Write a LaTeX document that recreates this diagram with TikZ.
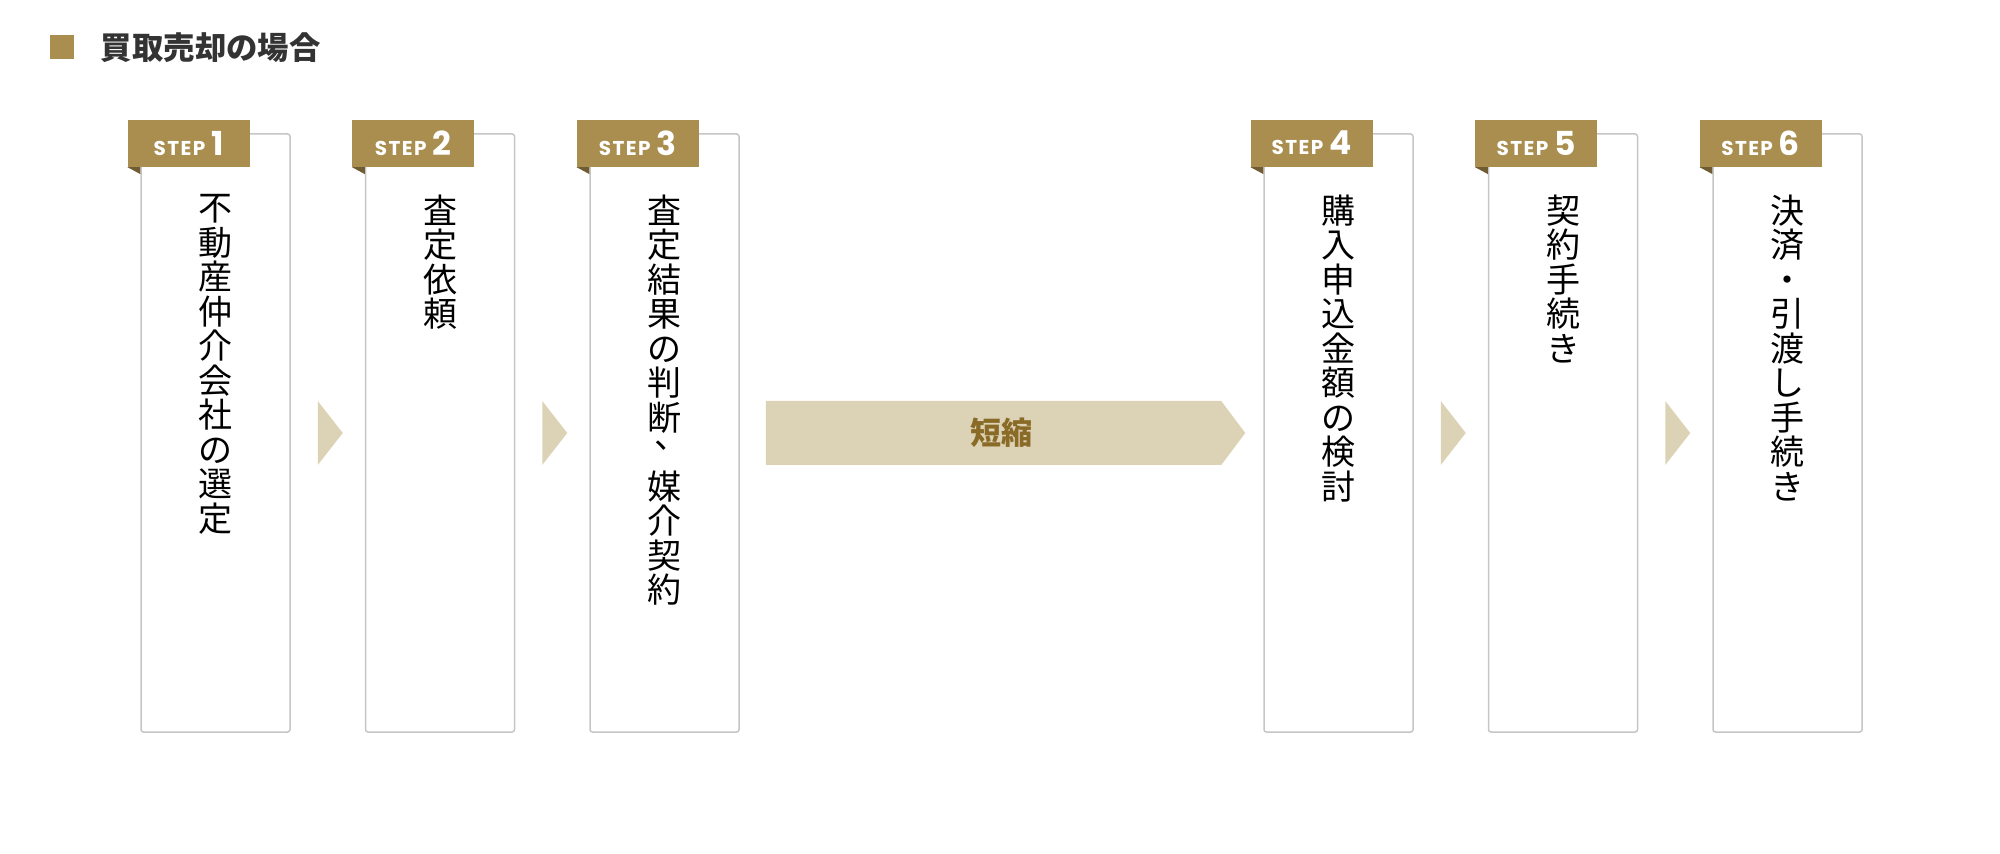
\documentclass[tikz,border=0pt]{standalone}
\usepackage{fontspec}
\newfontfamily\jp{Noto Sans CJK JP}
\newfontfamily\stepfont[LetterSpace=7]{Poppins}
\usepackage{tikz}
\usetikzlibrary{positioning, calc}

\definecolor{gold}{HTML}{A98E50}
\definecolor{golddark}{HTML}{6F5C33}
\definecolor{beige}{HTML}{DCD2B5}
\definecolor{brownish}{HTML}{8A6A27}
\definecolor{framegray}{HTML}{C6C6C6}
\definecolor{titlegray}{HTML}{333333}

\newcommand{\steplabel}[1]{{\fontsize{10pt}{10pt}\selectfont STEP}\hspace{3pt}{\fontsize{16.5pt}{16.5pt}\selectfont #1}}
\newcommand{\vcomma}{\makebox[1em][l]{\hspace{0.2em}\smash{\raisebox{0.48em}{、}}}}

\tikzset{
    stepbox/.style={draw=framegray, line width=0.75pt, rounded corners=1.2pt, fill=white,
        minimum width=74.5pt, minimum height=299pt, inner sep=0pt},
    steptag/.style={fill=gold, text=white, minimum width=61pt, minimum height=23.5pt,
        inner sep=0pt, anchor=north west, font=\stepfont\bfseries},
    steptext/.style={align=center, inner sep=0pt, font=\jp\fontsize{17pt}{17.25pt}\selectfont},
    chevron/.style={fill=beige},
}

\begin{document}
\begin{tikzpicture}[x=0.5pt, y=-0.5pt, node distance=37pt]
    \useasboundingbox (0,0) rectangle (2000,854);

    % Title
    \node (sq) [fill=gold, minimum size=12pt, inner sep=0pt] at (62,47.5) {};
    \node (title) [right=13pt of sq, inner sep=0pt, text=titlegray,
        font=\jp\bfseries\fontsize{15.7pt}{16pt}\selectfont] {買取売却の場合};

    % Boxes
    \node (s1) [stepbox] at (215.5,433) {};
    \node (s2) [stepbox, right=of s1] {};
    \node (s3) [stepbox, right=of s2] {};
    \node (s4) [stepbox, right=261.75pt of s3] {};
    \node (s5) [stepbox, right=of s4] {};
    \node (s6) [stepbox, right=of s5] {};

    % Tags
    \node (g1) [steptag] at ([shift={(-13,-14)}]s1.north west) {\steplabel{1}};
    \node (g2) [steptag] at ([shift={(-13,-14)}]s2.north west) {\steplabel{2}};
    \node (g3) [steptag] at ([shift={(-13,-14)}]s3.north west) {\steplabel{3}};
    \node (g4) [steptag] at ([shift={(-13,-14)}]s4.north west) {\steplabel{4}};
    \node (g5) [steptag] at ([shift={(-13,-14)}]s5.north west) {\steplabel{5}};
    \node (g6) [steptag] at ([shift={(-13,-14)}]s6.north west) {\steplabel{6}};
    \fill[golddark] (g1.south west) -- ([xshift=6.5pt]g1.south west) -- ++(0,-3.5pt) -- cycle;
    \fill[golddark] (g2.south west) -- ([xshift=6.5pt]g2.south west) -- ++(0,-3.5pt) -- cycle;
    \fill[golddark] (g3.south west) -- ([xshift=6.5pt]g3.south west) -- ++(0,-3.5pt) -- cycle;
    \fill[golddark] (g4.south west) -- ([xshift=6.5pt]g4.south west) -- ++(0,-3.5pt) -- cycle;
    \fill[golddark] (g5.south west) -- ([xshift=6.5pt]g5.south west) -- ++(0,-3.5pt) -- cycle;
    \fill[golddark] (g6.south west) -- ([xshift=6.5pt]g6.south west) -- ++(0,-3.5pt) -- cycle;

    % Texts
    \node (t1) [steptext, below=30.5pt of s1.north] {不\\動\\産\\仲\\介\\会\\社\\の\\選\\定};
    \node (t2) [steptext, below=30.5pt of s2.north] {査\\定\\依\\頼};
    \node (t3) [steptext, below=30.5pt of s3.north] {査\\定\\結\\果\\の\\判\\断\\\vcomma\\媒\\介\\契\\約};
    \node (t4) [steptext, below=30.5pt of s4.north] {購\\入\\申\\込\\金\\額\\の\\検\\討};
    \node (t5) [steptext, below=30.5pt of s5.north] {契\\約\\手\\続\\き};
    \node (t6) [steptext, below=30.5pt of s6.north] {決\\済\\・\\引\\渡\\し\\手\\続\\き};

    % Arrows
    \fill[chevron] ([xshift=13.5pt,yshift=16pt]s1.east) -- ++(12.5pt,-16pt) -- ++(-12.5pt,-16pt) -- cycle;
    \fill[chevron] ([xshift=13.5pt,yshift=16pt]s2.east) -- ++(12.5pt,-16pt) -- ++(-12.5pt,-16pt) -- cycle;
    \fill[chevron] ([xshift=13.5pt,yshift=16pt]s4.east) -- ++(12.5pt,-16pt) -- ++(-12.5pt,-16pt) -- cycle;
    \fill[chevron] ([xshift=13.5pt,yshift=16pt]s5.east) -- ++(12.5pt,-16pt) -- ++(-12.5pt,-16pt) -- cycle;
    \fill[chevron] ([xshift=13pt,yshift=16pt]s3.east) -- ([xshift=-21pt,yshift=16pt]s4.west)
        -- ([xshift=-9pt]s4.west) -- ([xshift=-21pt,yshift=-16pt]s4.west)
        -- ([xshift=13pt,yshift=-16pt]s3.east) -- cycle;
    \node (short) [text=brownish, font=\jp\bfseries\fontsize{15.5pt}{16pt}\selectfont]
        at ($(s3.east)!0.5!(s4.west)$) {短縮};
\end{tikzpicture}
\end{document}
